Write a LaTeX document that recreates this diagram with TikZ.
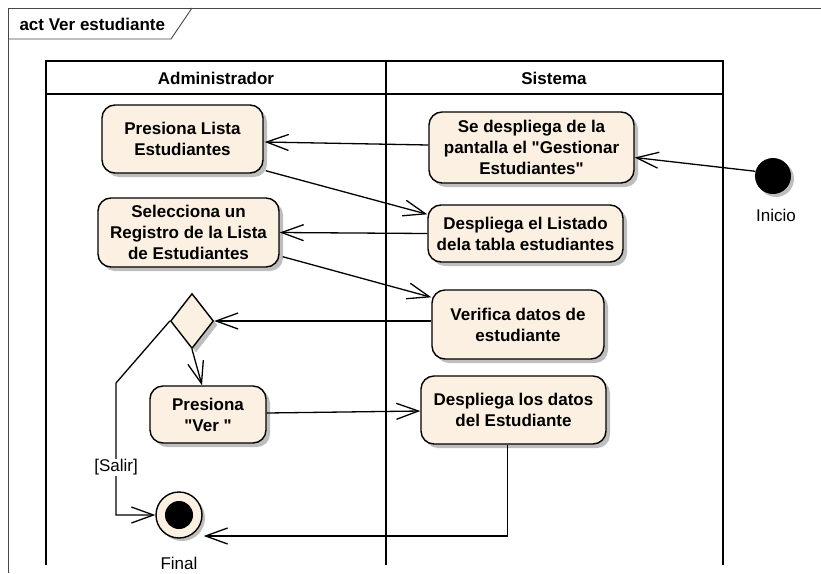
\documentclass[tikz,border=0pt]{standalone}
\usepackage{fontspec}
\setmainfont{Liberation Sans}[Ligatures=TeXOff]
\usetikzlibrary{arrows.meta,shapes.geometric,shadows,calc}
\definecolor{actfill}{RGB}{251,240,225}
\definecolor{shadowgray}{RGB}{190,190,190}
\definecolor{framegray}{RGB}{70,70,70}
\begin{document}
\begin{tikzpicture}[x=1pt,y=-1pt,
  font=\fontsize{17pt}{21pt}\selectfont,
  act/.style={draw=black,line width=1.4pt,fill=actfill,rounded corners=13pt,
    align=center,inner sep=0pt,font=\fontsize{17pt}{21pt}\selectfont\bfseries,
    drop shadow={shadow xshift=4pt,shadow yshift=-4pt,fill=shadowgray,opacity=1}},
  flow/.style={line width=1.3pt,-{Straight Barb[length=22pt,width=16pt,line width=1.3pt]}},
  lane/.style={line width=1.8pt},
  lbl/.style={font=\fontsize{17pt}{21pt}\selectfont}
]
\useasboundingbox (0,0) rectangle (821,573);
% frame
\draw[framegray,line width=0.9pt] (821,8) -- (8,8) -- (8,573);
\draw[framegray,line width=0.9pt] (8,39) -- (171,39) -- (192,8);
\node[anchor=west,font=\fontsize{17pt}{21pt}\selectfont\bfseries] (title) at (16,24) {act Ver estudiante};
% lanes
\draw[lane] (46,565) -- (46,61) -- (723,61) -- (723,565);
\draw[lane] (46,94) -- (723,94);
\draw[lane] (386,61) -- (386,565);
\node[font=\fontsize{17pt}{21pt}\selectfont\bfseries] (ladm) at (216,78) {Administrador};
\node[font=\fontsize{17pt}{21pt}\selectfont\bfseries] (lsis) at (554,78) {Sistema};
% nodes
\node[act,minimum width=161pt,minimum height=68pt] (a1) at (182.5,139) {Presiona Lista\\Estudiantes};
\node[act,minimum width=205pt,minimum height=71pt] (s1) at (531.5,147.5) {Se despliega de la\\pantalla el "Gestionar\\Estudiantes"};
\node[act,minimum width=195pt,minimum height=57pt] (s2) at (525.5,233.5) {Despliega el Listado\\dela tabla estudiantes};
\node[act,minimum width=181pt,minimum height=69pt] (a2) at (188.5,232.5) {Selecciona un\\Registro de la Lista\\de Estudiantes};
\node[act,minimum width=172pt,minimum height=69pt] (s3) at (518,324.5) {Verifica datos de\\estudiante};
\node[act,minimum width=185pt,minimum height=68pt] (s4) at (513.5,410) {Despliega los datos\\del Estudiante};
\node[act,minimum width=116pt,minimum height=57pt] (a3) at (208,414.5) {Presiona\\"Ver "};
\node[diamond,draw=black,line width=1.4pt,fill=actfill,inner sep=0pt,
  minimum width=43pt,minimum height=55pt,
  drop shadow={shadow xshift=4pt,shadow yshift=-4pt,fill=shadowgray,opacity=1}] (d) at (192,321) {};
\node[circle,fill=black,minimum size=36pt,inner sep=0pt,
  drop shadow={shadow xshift=3pt,shadow yshift=-3pt,fill=shadowgray,opacity=1}] (ini) at (773,176) {};
\node[lbl] (linicio) at (776,215) {Inicio};
\node[circle,draw=black,line width=1.4pt,fill=actfill,minimum size=46pt,inner sep=0pt,
  drop shadow={shadow xshift=3pt,shadow yshift=-3pt,fill=shadowgray,opacity=1}] (fin) at (179,515) {};
\node[circle,fill=black,minimum size=28pt,inner sep=0pt] (finin) at (fin) {};
\node[lbl,anchor=base] (lfinal) at (179,569) {Final};
% flows
\draw[flow] (ini.165) -- ($(s1.east)+(0,10)$);
\draw[flow] ($(s1.west)+(0,-2.5)$) -- ($(a1.east)+(1,3)$);
\draw[flow] ($(a1.south east)+(2,-3)$) -- ($(s2.north west)+(0,10)$);
\draw[flow] (s2.west) -- (a2.east);
\draw[flow] ($(a2.south east)+(3,-11)$) -- ($(s3.north west)+(0,8)$);
\draw[flow] (s3.west |- d.east) -- (d.east);
\draw[flow] (d.south) -- ($(a3.north)+(-6,0)$);
\draw[flow] ($(a3.east)+(0,-1.5)$) -- ($(s4.west)+(0,1)$);
\coordinate (finarr) at ($(fin.east)+(1,21)$);
\draw[flow] ($(s4.south)+(-6,0)$) |- (finarr);
\coordinate (salbend) at (116,383);
\draw[flow] (d.west) -- (salbend) |- (fin.west)
  node[pos=0.32,fill=white,inner sep=1pt,lbl] (lsalir) {[Salir]};
\end{tikzpicture}
\end{document}
